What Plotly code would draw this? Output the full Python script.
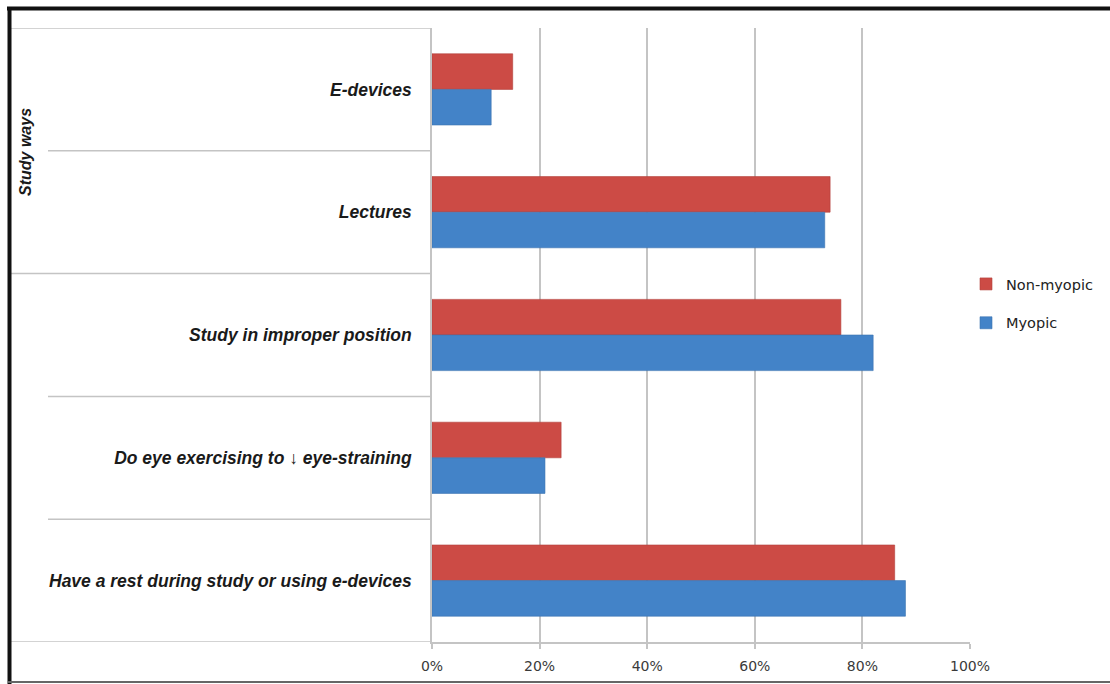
import plotly.graph_objects as go

# Survey categories (top to bottom) and share of respondents per group, in %
categories = [
    "E-devices",
    "Lectures",
    "Study in improper position",
    "Do eye exercising to \u2193 eye-straining",
    "Have a rest during study or using e-devices",
]
non_myopic = [15, 74, 76, 24, 86]
myopic = [11, 73, 82, 21, 88]
x_ticks = [0, 20, 40, 60, 80, 100]
x_tick_labels = ["0%", "20%", "40%", "60%", "80%", "100%"]

W, H = 1110, 684
PLOT_L, PLOT_R, PLOT_T, PLOT_B = 432, 970, 28, 642

RED = "#cc4b45"
BLUE = "#4383c8"
GRID = "#c4c4c4"


def px_x(px):
    return (px - PLOT_L) / (PLOT_R - PLOT_L)


def px_y(py):
    return 1 - (py - PLOT_T) / (PLOT_B - PLOT_T)


fig = go.Figure()
fig.add_trace(go.Bar(
    y=categories, x=non_myopic, orientation="h", name="Non-myopic",
    marker=dict(color=RED, line=dict(color="#b2403a", width=0.6)),
    legendgroup="nm",
))
fig.add_trace(go.Bar(
    y=categories, x=myopic, orientation="h", name="Myopic",
    marker=dict(color=BLUE, line=dict(color="#3a72b0", width=0.6)),
    legendgroup="m",
))

shapes = []
# Row separators of the category table on the left
row_starts = [11, 48, 11, 48, 48, 11]
for i, x_start in enumerate(row_starts):
    shapes.append(dict(
        type="line", xref="paper", yref="y",
        x0=px_x(x_start), x1=0, y0=i - 0.5, y1=i - 0.5,
        line=dict(color=GRID, width=1.5), layer="below",
    ))

# Outer frame
shapes.append(dict(type="line", xref="paper", yref="paper",
                   x0=px_x(7), x1=px_x(W), y0=px_y(8.5), y1=px_y(8.5),
                   line=dict(color="#111111", width=4)))
shapes.append(dict(type="line", xref="paper", yref="paper",
                   x0=px_x(9.5), x1=px_x(9.5), y0=px_y(7), y1=px_y(H),
                   line=dict(color="#111111", width=4)))
shapes.append(dict(type="line", xref="paper", yref="paper",
                   x0=px_x(8), x1=px_x(W), y0=px_y(682), y1=px_y(682),
                   line=dict(color="#666666", width=2)))

fig.update_layout(
    template="none",
    width=W, height=H,
    margin=dict(l=PLOT_L, r=W - PLOT_R, t=PLOT_T, b=H - PLOT_B, pad=0),
    paper_bgcolor="white", plot_bgcolor="white",
    barmode="group", bargap=0.42, bargroupgap=0,
    shapes=shapes,
    showlegend=True,
    legend=dict(
        x=px_x(966), y=px_y(268), xanchor="left", yanchor="top",
        xref="paper", yref="paper",
        font=dict(family="DejaVu Sans", size=14.5, color="#222222"),
        traceorder="grouped", tracegroupgap=17,
        bgcolor="rgba(0,0,0,0)",
    ),
    annotations=[dict(
        text="Study ways", xref="paper", yref="paper",
        x=px_x(25), y=px_y(152), xanchor="center", yanchor="middle",
        textangle=-90, showarrow=False,
        font=dict(family="Liberation Sans", size=16, color="#1a1a1a",
                  weight="bold", style="italic"),
    )],
)

fig.update_xaxes(
    automargin=False,
    range=[0, 100], tickvals=x_ticks, ticktext=x_tick_labels,
    showgrid=True, gridcolor=GRID, gridwidth=1.5,
    zeroline=False, showline=True, linecolor=GRID, linewidth=1.5,
    ticks="outside", ticklen=5, tickcolor=GRID, tickwidth=1.5,
    ticklabelstandoff=5,
    tickfont=dict(family="DejaVu Sans", size=14, color="#3a3a3a"),
    fixedrange=True,
)
fig.update_yaxes(
    automargin=False,
    range=[len(categories) - 0.5, -0.5],
    showgrid=False, zeroline=False,
    showline=True, linecolor=GRID, linewidth=1.5,
    ticks="", ticklabelstandoff=15,
    tickfont=dict(family="Liberation Sans", size=17.5, color="#1a1a1a",
                  weight="bold", style="italic"),
    fixedrange=True,
)

fig.write_html("out.html", config={"displayModeBar": False})
